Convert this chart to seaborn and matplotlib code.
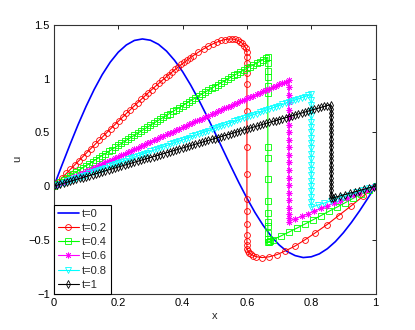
import matplotlib
matplotlib.use("Agg")
import matplotlib.pyplot as plt
import seaborn as sns

# ---------------- data ----------------
labels = ["t=0", "t=0.2", "t=0.4", "t=0.6", "t=0.8", "t=1"]

# shared x positions (step 0.01) of the rising branches
x_grid = [0, 0.01, 0.02, 0.03, 0.04, 0.05, 0.06, 0.07, 0.08, 0.09,
          0.10, 0.11, 0.12, 0.13, 0.14, 0.15, 0.16, 0.17, 0.18, 0.19,
          0.20, 0.21, 0.22, 0.23, 0.24, 0.25, 0.26, 0.27, 0.28, 0.29,
          0.30, 0.31, 0.32, 0.33, 0.34, 0.35, 0.36, 0.37, 0.38, 0.39,
          0.40, 0.41, 0.42, 0.43, 0.44, 0.45, 0.46, 0.47, 0.48, 0.49,
          0.50, 0.51, 0.52, 0.53, 0.54, 0.55, 0.56, 0.57, 0.58, 0.59,
          0.60, 0.61, 0.62, 0.63, 0.64, 0.65, 0.66, 0.67, 0.68, 0.69,
          0.70, 0.71, 0.72, 0.73, 0.74, 0.75, 0.76, 0.77, 0.78, 0.79,
          0.80, 0.81, 0.82, 0.83, 0.84, 0.85, 0.86]

x_t0 = [0, 0.025, 0.05, 0.075, 0.1, 0.125, 0.15, 0.175, 0.2, 0.225, 0.25, 0.275,
        0.3, 0.325, 0.35, 0.375, 0.4, 0.425, 0.45, 0.475, 0.5, 0.525, 0.55, 0.575,
        0.6, 0.625, 0.65, 0.675, 0.7, 0.725, 0.75, 0.775, 0.8, 0.825, 0.85, 0.875,
        0.9, 0.925, 0.95, 0.975, 1.0]
u_t0 = [0, 0.196, 0.387, 0.571, 0.742, 0.898, 1.036, 1.152, 1.245, 1.312, 1.354,
        1.368, 1.356, 1.318, 1.255, 1.169, 1.064, 0.940, 0.803, 0.655, 0.5, 0.342,
        0.185, 0.032, -0.112, -0.245, -0.363, -0.464, -0.546, -0.608, -0.646, -0.664,
        -0.657, -0.630, -0.582, -0.516, -0.433, -0.337, -0.231, -0.117, 0]

x_t02 = [0, 0.0128, 0.0257, 0.0385, 0.0513, 0.0641, 0.0769, 0.0896, 0.1023, 0.1149,
         0.1274, 0.1399, 0.1524, 0.1647, 0.1770, 0.1891, 0.2012, 0.2132, 0.2251, 0.2368,
         0.2485, 0.2600, 0.2714, 0.2826, 0.2937, 0.3046, 0.3155, 0.3261, 0.3367, 0.3470,
         0.3572, 0.3671, 0.3770, 0.3866, 0.3962, 0.4054, 0.4145, 0.4234, 0.4322,
         0.4490, 0.4650, 0.4802, 0.4946, 0.5081, 0.5207, 0.5325, 0.5434, 0.5535, 0.5627,
         0.5711, 0.5787, 0.5854, 0.5913, 0.5965, 0.600,
         0.600, 0.600, 0.600, 0.600, 0.600, 0.600, 0.600, 0.600, 0.600, 0.600, 0.600,
         0.600, 0.600, 0.600,
         0.603, 0.607, 0.613, 0.620, 0.629, 0.647, 0.669, 0.693, 0.719, 0.749, 0.780,
         0.813, 0.849, 0.885, 0.923, 0.961, 1.0]
u_t02 = [0, 0.039, 0.0785, 0.1176, 0.1567, 0.1956, 0.2345, 0.2730, 0.3114, 0.3493,
         0.3872, 0.4245, 0.4618, 0.4984, 0.5349, 0.5705, 0.6061, 0.6407, 0.6753, 0.7088,
         0.7423, 0.7746, 0.8068, 0.8377, 0.8686, 0.8981, 0.9276, 0.9555, 0.9834, 1.0097,
         1.0360, 1.0606, 1.0852, 1.1080, 1.1308, 1.1518, 1.1727, 1.1918, 1.2109,
         1.2450, 1.2751, 1.3010, 1.3228, 1.3403, 1.3536, 1.3625, 1.3672, 1.3676, 1.3637,
         1.3556, 1.3434, 1.3270, 1.3067, 1.2825, 1.25,
         1.20, 1.14, 1.05, 0.95, 0.70, 0.36, 0.11, -0.12, -0.23, -0.35, -0.45,
         -0.51, -0.55, -0.58,
         -0.60, -0.62, -0.634, -0.645, -0.656, -0.664, -0.657, -0.637, -0.603, -0.558,
         -0.500, -0.433, -0.358, -0.274, -0.186, -0.094, 0]

u_t04_rise = [0, 0.019, 0.038, 0.057, 0.076, 0.095, 0.114, 0.133, 0.152, 0.171,
              0.189, 0.208, 0.227, 0.246, 0.265, 0.284, 0.303, 0.322, 0.340, 0.359,
              0.378, 0.397, 0.416, 0.435, 0.453, 0.472, 0.490, 0.509, 0.527, 0.546,
              0.565, 0.584, 0.602, 0.620, 0.638, 0.657, 0.675, 0.694, 0.712, 0.730,
              0.748, 0.766, 0.784, 0.802, 0.820, 0.838, 0.855, 0.873, 0.891, 0.909,
              0.926, 0.943, 0.960, 0.978, 0.995, 1.012, 1.029, 1.046, 1.062, 1.079,
              1.095, 1.111, 1.127, 1.143, 1.158, 1.174, 1.189]
x_t04_rest = [0.665,
              0.665, 0.665, 0.665, 0.665, 0.665, 0.665, 0.665, 0.665, 0.665, 0.665,
              0.665, 0.665, 0.665, 0.665, 0.665,
              0.668, 0.672, 0.68, 0.705, 0.73, 0.755, 0.78, 0.805, 0.83, 0.855, 0.88,
              0.905, 0.93, 0.955, 0.98, 1.0]
u_t04_rest = [1.197,
              1.14, 1.07, 1.01, 0.93, 0.87, 0.36, 0.26, 0.07, -0.14, -0.25, -0.33,
              -0.37, -0.44, -0.49, -0.515,
              -0.52, -0.51, -0.500, -0.464, -0.428, -0.391, -0.353, -0.314, -0.274,
              -0.234, -0.195, -0.155, -0.114, -0.073, -0.032, 0]

u_t06_rise = [0, 0.014, 0.0275, 0.041, 0.055, 0.069, 0.0825, 0.096, 0.110, 0.124,
              0.1375, 0.151, 0.165, 0.179, 0.192, 0.206, 0.220, 0.234, 0.247, 0.261,
              0.275, 0.289, 0.302, 0.316, 0.329, 0.343, 0.357, 0.371, 0.384, 0.398,
              0.411, 0.425, 0.439, 0.453, 0.466, 0.480, 0.493, 0.507, 0.520, 0.534,
              0.547, 0.561, 0.574, 0.588, 0.601, 0.615, 0.628, 0.642, 0.655, 0.669,
              0.682, 0.695, 0.708, 0.722, 0.735, 0.749, 0.762, 0.775, 0.788, 0.802,
              0.815, 0.828, 0.841, 0.854, 0.867, 0.880, 0.893, 0.906, 0.919, 0.932,
              0.945, 0.958, 0.971, 0.983]
x_t06_rest = [0.73, 0.73, 0.73, 0.73, 0.73, 0.73, 0.73, 0.73, 0.73, 0.73, 0.73, 0.73,
              0.73, 0.73, 0.73, 0.73, 0.73, 0.73, 0.73, 0.73,
              0.75, 0.77, 0.79, 0.81, 0.83, 0.85, 0.87, 0.89, 0.91, 0.93, 0.95, 0.97,
              0.99, 1.0]
u_t06_rest = [0.92, 0.85, 0.78, 0.71, 0.64, 0.57, 0.50, 0.43, 0.36, 0.29, 0.22, 0.15,
              0.08, 0.01, -0.06, -0.13, -0.20, -0.26, -0.30, -0.329,
              -0.305, -0.281, -0.256, -0.232, -0.208, -0.184, -0.160, -0.135, -0.111,
              -0.086, -0.061, -0.037, -0.012, 0]

u_t08_rise = [0, 0.0108, 0.0216, 0.0324, 0.0431, 0.0539, 0.0647, 0.0755, 0.0862, 0.0970,
              0.1078, 0.1186, 0.1294, 0.1402, 0.1509, 0.1617, 0.1724, 0.1832, 0.1939, 0.2047,
              0.2154, 0.2262, 0.2370, 0.2478, 0.2585, 0.2693, 0.2800, 0.2908, 0.3016, 0.3124,
              0.3231, 0.3338, 0.3445, 0.3553, 0.3660, 0.3767, 0.3874, 0.3982, 0.4089, 0.4196,
              0.4303, 0.4410, 0.4517, 0.4624, 0.4731, 0.4838, 0.4944, 0.5051, 0.5157, 0.5264,
              0.5370, 0.5477, 0.5583, 0.5690, 0.5796, 0.5903, 0.6009, 0.6115, 0.6221, 0.6327,
              0.6432, 0.6538, 0.6644, 0.6750, 0.6855, 0.6961, 0.7066, 0.7172, 0.7277, 0.7383,
              0.7488, 0.7593, 0.7697, 0.7802, 0.7907, 0.8012, 0.8116, 0.8220, 0.8324, 0.8428,
              0.8532]
x_t08_rest = [0.80, 0.80, 0.80, 0.80, 0.80, 0.80, 0.80, 0.80, 0.80, 0.80, 0.80, 0.80,
              0.80, 0.80, 0.80, 0.80, 0.80, 0.80, 0.80, 0.80, 0.80,
              0.82, 0.84, 0.86, 0.88, 0.90, 0.92, 0.94, 0.96, 0.98, 1.0]
u_t08_rest = [0.80, 0.75, 0.70, 0.65, 0.60, 0.55, 0.50, 0.45, 0.40, 0.35, 0.30, 0.25,
              0.20, 0.15, 0.10, 0.05, 0.00, -0.05, -0.10, -0.15, -0.197,
              -0.177, -0.158, -0.138, -0.118, -0.099, -0.079, -0.059, -0.040, -0.020, 0]

u_t1_rise = [0, 0.0089, 0.0177, 0.0266, 0.0355, 0.0444, 0.0532, 0.0621, 0.0710, 0.0799,
             0.0887, 0.0976, 0.1064, 0.1153, 0.1242, 0.1331, 0.1419, 0.1508, 0.1596, 0.1685,
             0.1773, 0.1862, 0.1950, 0.2039, 0.2127, 0.2216, 0.2304, 0.2393, 0.2481, 0.2570,
             0.2659, 0.2748, 0.2836, 0.2925, 0.3013, 0.3102, 0.3190, 0.3279, 0.3367, 0.3455,
             0.3543, 0.3632, 0.3720, 0.3808, 0.3896, 0.3985, 0.4073, 0.4161, 0.4249, 0.4338,
             0.4426, 0.4514, 0.4602, 0.4690, 0.4778, 0.4866, 0.4954, 0.5042, 0.5129, 0.5217,
             0.5305, 0.5393, 0.5481, 0.5569, 0.5656, 0.5744, 0.5832, 0.5920, 0.6007, 0.6095,
             0.6182, 0.6269, 0.6356, 0.6444, 0.6531, 0.6618, 0.6705, 0.6793, 0.6880, 0.6967,
             0.7054, 0.7141, 0.7228, 0.7316, 0.7403, 0.7490, 0.7576]
x_t1_rest = [0.862, 0.862, 0.862, 0.862, 0.862, 0.862, 0.862, 0.862, 0.862, 0.862,
             0.862, 0.862, 0.862, 0.862, 0.862, 0.862, 0.862, 0.862, 0.862, 0.862,
             0.862, 0.862,
             0.868, 0.875, 0.89, 0.905, 0.92, 0.935, 0.95, 0.965, 0.98, 0.995, 1.0]
u_t1_rest = [0.72, 0.68, 0.64, 0.60, 0.56, 0.52, 0.48, 0.44, 0.40, 0.36, 0.32, 0.28,
             0.24, 0.20, 0.16, 0.12, 0.08, 0.04, 0.00, -0.04, -0.08, -0.114,
             -0.11, -0.104, -0.091, -0.078, -0.066, -0.054, -0.041, -0.029, -0.016,
             -0.004, 0]

x_t04 = x_grid[:len(u_t04_rise)] + x_t04_rest
u_t04 = u_t04_rise + u_t04_rest
x_t06 = x_grid[:len(u_t06_rise)] + x_t06_rest
u_t06 = u_t06_rise + u_t06_rest
x_t08 = x_grid[:len(u_t08_rise)] + x_t08_rest
u_t08 = u_t08_rise + u_t08_rest
x_t1 = x_grid[:len(u_t1_rise)] + x_t1_rest
u_t1 = u_t1_rise + u_t1_rest
x_t06[len(u_t06_rise) - 1] = 0.73  # peak sits on the shock line

x_ticks = [0, 0.2, 0.4, 0.6, 0.8, 1]
x_ticklabels = ["0", "0.2", "0.4", "0.6", "0.8", "1"]
y_ticks = [-1, -0.5, 0, 0.5, 1, 1.5]
y_ticklabels = ["\u22121", "\u22120.5", "0", "0.5", "1", "1.5"]

# ---------------- plotting ----------------
sns.set_theme(style="white")
plt.rcParams["font.family"] = ["Liberation Sans", "DejaVu Sans"]

fig = plt.figure(figsize=(4.15, 3.3), dpi=100)
ax = fig.add_axes([0.13, 0.11, 0.775, 0.815])

styles = [
    (x_t0, u_t0, labels[0], "#0000ff", None, 0, "#0000ff", 1.2),
    (x_t02, u_t02, labels[1], "#ff0000", "o", 4.2, "none", 0.8),
    (x_t04, u_t04, labels[2], "#00ff00", "s", 3.8, "none", 0.8),
    (x_t06, u_t06, labels[3], "#ff00ff", (8, 2, 0), 4.2, "#ff00ff", 0.8),
    (x_t08, u_t08, labels[4], "#00ffff", "v", 4.2, "none", 0.8),
    (x_t1, u_t1, labels[5], "#000000", "d", 3.8, "none", 0.8),
]

for xs, us, lab, col, mk, ms, mfc, lw in styles:
    kw = dict(x=xs, y=us, ax=ax, color=col, linewidth=lw, sort=False,
              estimator=None, label=lab)
    if mk is not None:
        kw.update(marker=mk, markersize=ms, markerfacecolor=mfc,
                  markeredgecolor=col, markeredgewidth=0.6)
    sns.lineplot(**kw)

ax.set_xlim(0, 1)
ax.set_ylim(-1, 1.5)
ax.set_xticks(x_ticks)
ax.set_xticklabels(x_ticklabels)
ax.set_yticks(y_ticks)
ax.set_yticklabels(y_ticklabels)
ax.tick_params(direction="in", top=True, right=True, length=3, width=0.6,
               labelsize=8, colors="black", pad=3)
for sp in ax.spines.values():
    sp.set_color("#333333")
    sp.set_linewidth(0.8)
ax.set_xlabel("x", fontsize=8, labelpad=2)
ax.set_ylabel("u", fontsize=8, labelpad=4)

leg = ax.legend(loc="lower left", borderaxespad=0, fancybox=False,
                edgecolor="black", framealpha=1, fontsize=8, handlelength=1.9,
                handletextpad=0.3, borderpad=0.35, labelspacing=0.38, numpoints=1)
leg.get_frame().set_linewidth(0.8)

fig.savefig("out.png", dpi=100)
